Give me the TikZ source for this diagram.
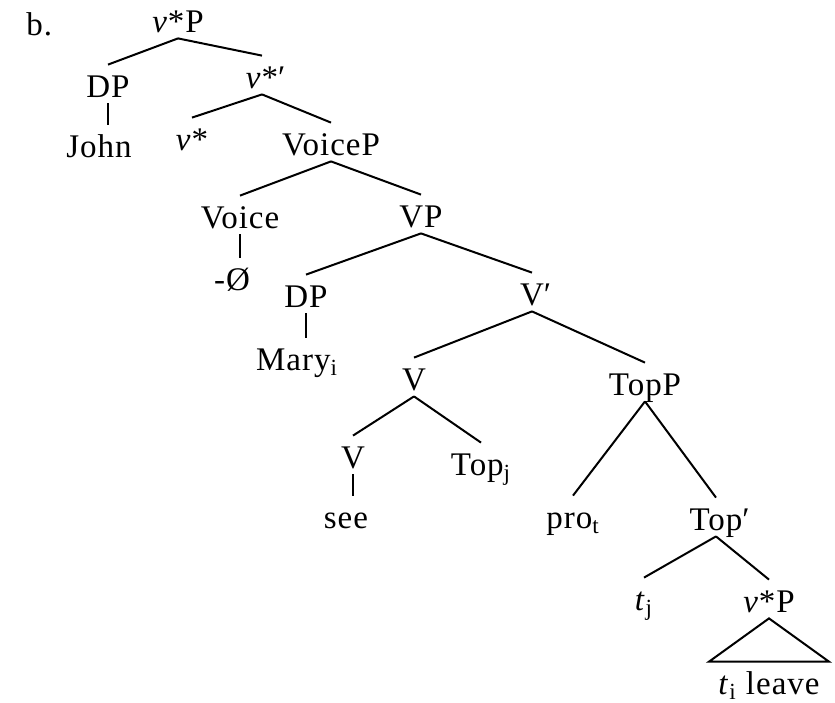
\documentclass[tikz,border=0pt]{standalone}
\usepackage{fontspec}
\setmainfont{Liberation Serif}[LetterSpace=3]
\tikzset{
  cat/.style={
    anchor=base,
    inner xsep=2pt,
    inner ysep=3pt,
    text height=13pt,
    text depth=0pt,
    font=\fontsize{16.5}{20}\selectfont
  },
  branch/.style={line width=1pt, draw=black}
}
\newcommand{\vst}{\textit{v}*}

\begin{document}
\begin{tikzpicture}[x=0.5pt, y=-0.5pt]
  \useasboundingbox (0,0) rectangle (835,702);
  \node[cat, anchor=base west] (ex) at (22,35) {b.};
  % top part
  \node[cat] (vP) at (178,32) {\vst P};
  \node[cat] (dpjohn) at (108,97) {DP};
  \node[cat] (vbar) at (262,88) {\vst\rlap{′}};
  \node[cat] (john) at (99,157) {John};
  \node[cat] (vhead) at (192,150) {\vst};
  \node[cat] (voiceP) at (331,155) {VoiceP};
  \node[cat] (voice) at (240,228) {Voice};
  \node[cat] (VP) at (421,227) {VP};
  \node[cat] (null) at (232,290) {-Ø};
  \node[cat] (dpmary) at (306,307) {DP};
  \node[cat] (Vbar) at (532,305) {V\rlap{′}};
  \node[cat] (mary) at (297,370) {Mary\textsubscript{i}};
  % lower part
  \node[cat] (Vtop) at (414,390) {V};
  \node[cat] (topP) at (645,395) {TopP};
  \node[cat] (Vlow) at (353,468) {V};
  \node[cat] (topj) at (481,475) {Top\textsubscript{j}};
  \node[cat] (see) at (346,528) {see};
  \node[cat] (pro) at (573,528) {pro\textsubscript{t}};
  \node[cat] (topbar) at (716,530) {Top\rlap{′}};
  \node[cat] (tj) at (644,610) {\textit{t}\textsubscript{j}};
  \node[cat] (vPlow) at (769,612) {\vst P};
  \node[cat, inner xsep=4.5pt] (leave) at (769,694) {\textit{t}\textsubscript{i} leave};

  \draw[branch] (vP.south) -- (dpjohn.north);
  \draw[branch] (vP.south) -- (vbar.north);
  \draw[branch] (dpjohn.south) -- (dpjohn.south |- john.north);
  \draw[branch] (vbar.south) -- (vhead.north);
  \draw[branch] (vbar.south) -- (voiceP.north);
  \draw[branch] (voiceP.south) -- (voice.north);
  \draw[branch] (voiceP.south) -- (VP.north);
  \draw[branch] (voice.south) -- (voice.south |- null.north);
  \draw[branch] (VP.south) -- (dpmary.north);
  \draw[branch] (VP.south) -- (Vbar.north);
  \draw[branch] (dpmary.south) -- (dpmary.south |- mary.north);
  \draw[branch] (Vbar.south) -- (Vtop.north);
  \draw[branch] (Vbar.south) -- (topP.north);
  \draw[branch] (Vtop.south) -- (Vlow.north);
  \draw[branch] (Vtop.south) -- (topj.north);
  \draw[branch] (Vlow.south) -- (Vlow.south |- see.north);
  \draw[branch] (topP.south) -- (pro.north);
  \draw[branch] (topP.south) -- (topbar.north);
  \draw[branch] (topbar.south) -- (tj.north);
  \draw[branch] (topbar.south) -- (vPlow.north);
  \draw[branch] (vPlow.south) -- (leave.north west) -- (leave.north east) -- cycle;
\end{tikzpicture}
\end{document}
